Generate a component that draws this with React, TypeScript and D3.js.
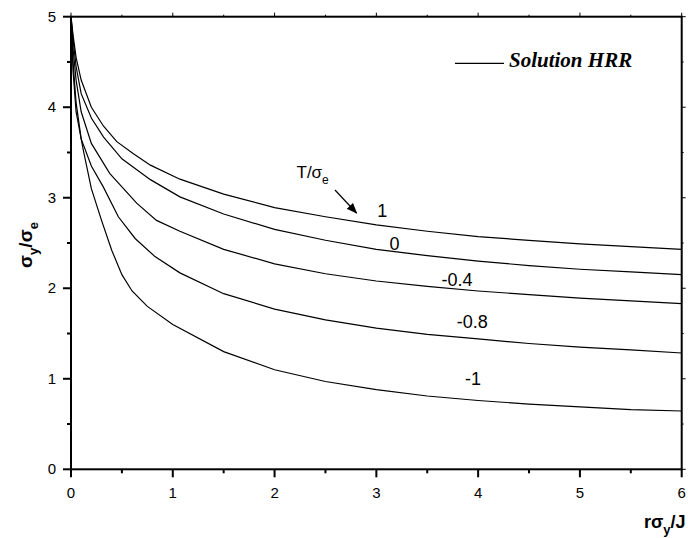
import React from "react";
import * as d3 from "d3";

const xTicks = [0, 1, 2, 3, 4, 5, 6];
const yTicks = [0, 1, 2, 3, 4, 5];

const seriesNames = ["1", "0", "-0.4", "-0.8", "-1"];

const xs1 = [0, 0.02, 0.05, 0.1, 0.2, 0.32, 0.45, 0.61, 0.78, 1.07, 1.5, 2, 2.5, 3, 3.5, 4, 4.5, 5, 5.5, 6];
const ys1 = [5, 4.8, 4.55, 4.3, 4.0, 3.79, 3.62, 3.49, 3.36, 3.205, 3.04, 2.89, 2.79, 2.7, 2.63, 2.57, 2.53, 2.49, 2.46, 2.43];

const xs0 = [0, 0.02, 0.05, 0.1, 0.2, 0.32, 0.5, 0.78, 1.07, 1.5, 2, 2.5, 3, 3.5, 4, 4.5, 5, 5.5, 6];
const ys0 = [5, 4.75, 4.45, 4.15, 3.88, 3.67, 3.43, 3.2, 3.01, 2.82, 2.65, 2.53, 2.43, 2.36, 2.3, 2.25, 2.21, 2.18, 2.15];

const xsM04 = [0, 0.02, 0.05, 0.1, 0.2, 0.38, 0.645, 0.84, 1.07, 1.5, 2, 2.5, 3, 3.5, 4, 4.5, 5, 5.5, 6];
const ysM04 = [5, 4.65, 4.3, 3.95, 3.6, 3.27, 2.94, 2.75, 2.63, 2.43, 2.27, 2.16, 2.08, 2.02, 1.97, 1.93, 1.89, 1.86, 1.83];

const xsM08 = [0, 0.02, 0.05, 0.1, 0.2, 0.317, 0.465, 0.63, 0.825, 1.07, 1.5, 2, 2.5, 3, 3.5, 4, 4.5, 5, 5.5, 6];
const ysM08 = [5, 4.5, 4.05, 3.65, 3.35, 3.12, 2.79, 2.55, 2.35, 2.17, 1.94, 1.77, 1.65, 1.56, 1.49, 1.44, 1.39, 1.35, 1.32, 1.285];

const xsM1 = [0, 0.02, 0.05, 0.12, 0.2, 0.3, 0.4, 0.5, 0.6, 0.75, 1.0, 1.5, 2, 2.5, 3, 3.5, 4, 4.5, 5, 5.5, 6];
const ysM1 = [5, 4.4, 3.95, 3.53, 3.1, 2.75, 2.42, 2.15, 1.97, 1.8, 1.6, 1.3, 1.1, 0.97, 0.88, 0.81, 0.76, 0.72, 0.69, 0.66, 0.644];

const seriesX = [xs1, xs0, xsM04, xsM08, xsM1];
const seriesY = [ys1, ys0, ysM04, ysM08, ysM1];

// label anchor positions in data coordinates (x, baseline y)
const labelX = [3.01, 3.13, 3.64, 3.79, 3.87];
const labelY = [2.79, 2.42, 2.03, 1.56, 0.93];

export default function App() {
  const x = d3.scaleLinear().domain([0, 6]).range([71, 681.7]);
  const y = d3.scaleLinear().domain([0, 5]).range([469.3, 16.7]);
  const line = d3
    .line<[number, number]>()
    .x((d) => x(d[0]))
    .y((d) => y(d[1]));

  const xMinor = d3.range(0.5, 6, 1);
  const yMinor = d3.range(0.5, 5, 1);
  const font = "Arial, 'Liberation Sans', sans-serif";

  return (
    <svg
      width={688}
      height={538}
      style={{ position: "absolute", left: 0, top: 0, background: "#fff" }}
      fontFamily={font}
    >
      <defs>
        <marker id="ah" viewBox="0 0 10 10" refX="9" refY="5" markerWidth="9" markerHeight="9" orient="auto">
          <path d="M0,1 L10,5 L0,9 Z" fill="#000" />
        </marker>
      </defs>

      {/* curves */}
      {seriesX.map((xs, i) => (
        <path
          key={i}
          d={line(xs.map((v, j) => [v, seriesY[i][j]]) as [number, number][]) || ""}
          fill="none"
          stroke="#000"
          strokeWidth={1.2}
        />
      ))}

      {/* frame */}
      <rect x={x(0)} y={y(5)} width={x(6) - x(0)} height={y(0) - y(5)} fill="none" stroke="#000" strokeWidth={2} />

      {/* bottom axis ticks */}
      {xTicks.map((t) => (
        <g key={"xt" + t}>
          <line x1={x(t)} x2={x(t)} y1={y(0)} y2={y(0) + 8} stroke="#000" strokeWidth={2} />
          <line x1={x(t)} x2={x(t)} y1={y(5)} y2={y(5) - 4} stroke="#000" strokeWidth={1} />
          <text x={x(t)} y={y(0) + 28.7} textAnchor="middle" fontSize={15}>
            {t}
          </text>
        </g>
      ))}
      {xMinor.map((t) => (
        <g key={"xm" + t}>
          <line x1={x(t)} x2={x(t)} y1={y(0)} y2={y(0) + 4} stroke="#000" strokeWidth={2} />
          <line x1={x(t)} x2={x(t)} y1={y(5)} y2={y(5) - 2} stroke="#000" strokeWidth={1} />
        </g>
      ))}

      {/* left axis ticks */}
      {yTicks.map((t) => (
        <g key={"yt" + t}>
          <line x1={x(0) - 8} x2={x(0)} y1={y(t)} y2={y(t)} stroke="#000" strokeWidth={2} />
          <line x1={x(6)} x2={x(6) + 4} y1={y(t)} y2={y(t)} stroke="#000" strokeWidth={1} />
          <text x={x(0) - 15} y={y(t) + 5} textAnchor="end" fontSize={15}>
            {t}
          </text>
        </g>
      ))}
      {yMinor.map((t) => (
        <g key={"ym" + t}>
          <line x1={x(0) - 4} x2={x(0)} y1={y(t)} y2={y(t)} stroke="#000" strokeWidth={2} />
          <line x1={x(6)} x2={x(6) + 2} y1={y(t)} y2={y(t)} stroke="#000" strokeWidth={1} />
        </g>
      ))}

      {/* axis titles */}
      <text x={644} y={528} fontSize={18} fontWeight="bold">
        rσ
        <tspan fontSize={13} dy={6}>y</tspan>
        <tspan dy={-6}>/J</tspan>
      </text>
      <text transform="translate(32,245) rotate(-90)" textAnchor="middle" fontSize={19} fontWeight="bold">
        σ
        <tspan fontSize={13} dy={6}>y</tspan>
        <tspan dy={-6}>/σ</tspan>
        <tspan fontSize={13} dy={6}>e</tspan>
      </text>

      {/* legend */}
      <line x1={455} x2={504} y1={63.3} y2={63.3} stroke="#000" strokeWidth={1.2} />
      <text x={509} y={67} fontSize={21} fontWeight="bold" fontStyle="italic" fontFamily="'Liberation Serif', 'Times New Roman', serif">
        Solution HRR
      </text>

      {/* annotation */}
      <text x={296.5} y={178} fontSize={17}>
        T/σ
        <tspan fontSize={12} dy={6}>e</tspan>
      </text>
      <line x1={335} y1={190} x2={356.5} y2={213} stroke="#000" strokeWidth={1.2} markerEnd="url(#ah)" />

      {seriesNames.map((n, i) => (
        <text key={"lab" + i} x={x(labelX[i])} y={y(labelY[i])} fontSize={18}>
          {n}
        </text>
      ))}
    </svg>
  );
}
